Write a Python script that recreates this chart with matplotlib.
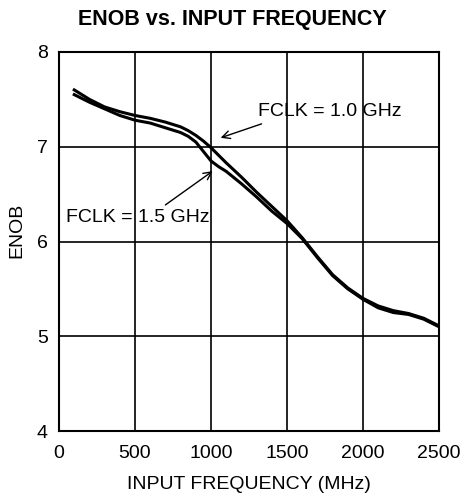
import matplotlib
matplotlib.use("Agg")
import matplotlib.pyplot as plt
import numpy as np

# ENOB vs input frequency
freq_mhz = [100, 200, 300, 400, 500, 600, 700, 800, 850, 900, 950, 1000,
            1050, 1100, 1200, 1300, 1400, 1500, 1600, 1700, 1800, 1900,
            2000, 2100, 2200, 2300, 2400, 2500]
enob_fclk_1g0 = [7.60, 7.50, 7.42, 7.37, 7.33, 7.30, 7.26, 7.21, 7.17, 7.12,
                 7.06, 6.99, 6.91, 6.83, 6.68, 6.52, 6.37, 6.22, 6.04, 5.84,
                 5.65, 5.51, 5.40, 5.32, 5.27, 5.24, 5.19, 5.11]
enob_fclk_1g5 = [7.55, 7.47, 7.40, 7.33, 7.28, 7.25, 7.20, 7.15, 7.11, 7.05,
                 6.95, 6.85, 6.79, 6.74, 6.61, 6.47, 6.32, 6.19, 6.03, 5.83,
                 5.64, 5.50, 5.39, 5.30, 5.25, 5.23, 5.18, 5.10]

x_ticks = [0, 500, 1000, 1500, 2000, 2500]
y_ticks = [4, 5, 6, 7, 8]

plt.rcParams["font.family"] = ["Liberation Sans", "DejaVu Sans"]

fig = plt.figure(figsize=(4.65, 5.0), dpi=100)
ax = fig.add_axes([0.127, 0.138, 0.817, 0.758])

ax.plot(freq_mhz, enob_fclk_1g0, color="black", linewidth=2.2)
ax.plot(freq_mhz, enob_fclk_1g5, color="black", linewidth=2.2)

ax.set_xlim(0, 2500)
ax.set_ylim(4, 8)
ax.set_xticks(x_ticks)
ax.set_yticks(y_ticks)
ax.tick_params(axis="x", length=0, labelsize=14, pad=10)
ax.tick_params(axis="y", length=0, labelsize=14, pad=8)
ax.grid(True, color="black", linewidth=1.2)
for s in ax.spines.values():
    s.set_linewidth(1.5)

ax.set_xlabel("INPUT FREQUENCY (MHz)", fontsize=14, labelpad=10)
ax.set_ylabel("ENOB", fontsize=14)
ax.yaxis.set_label_coords(-0.088, 0.53)
fig.text(0.5, 1 - 20 / 500, "ENOB vs. INPUT FREQUENCY", fontsize=15.5,
         fontweight="bold", ha="center", va="center")

arrow = dict(arrowstyle="->", color="black", linewidth=1.0,
             mutation_scale=14)
ax.annotate("FCLK = 1.0 GHz", xy=(1046, 7.085), xytext=(1309, 7.37),
            fontsize=14, va="center", ha="left",
            arrowprops=dict(arrow, relpos=(0.1, 0.0)))
ax.annotate("FCLK = 1.5 GHz", xy=(1026, 6.76), xytext=(45, 6.25),
            fontsize=14, va="center", ha="left",
            arrowprops=dict(arrow, relpos=(0.65, 1.0)))

fig.savefig("out.png", dpi=100)
